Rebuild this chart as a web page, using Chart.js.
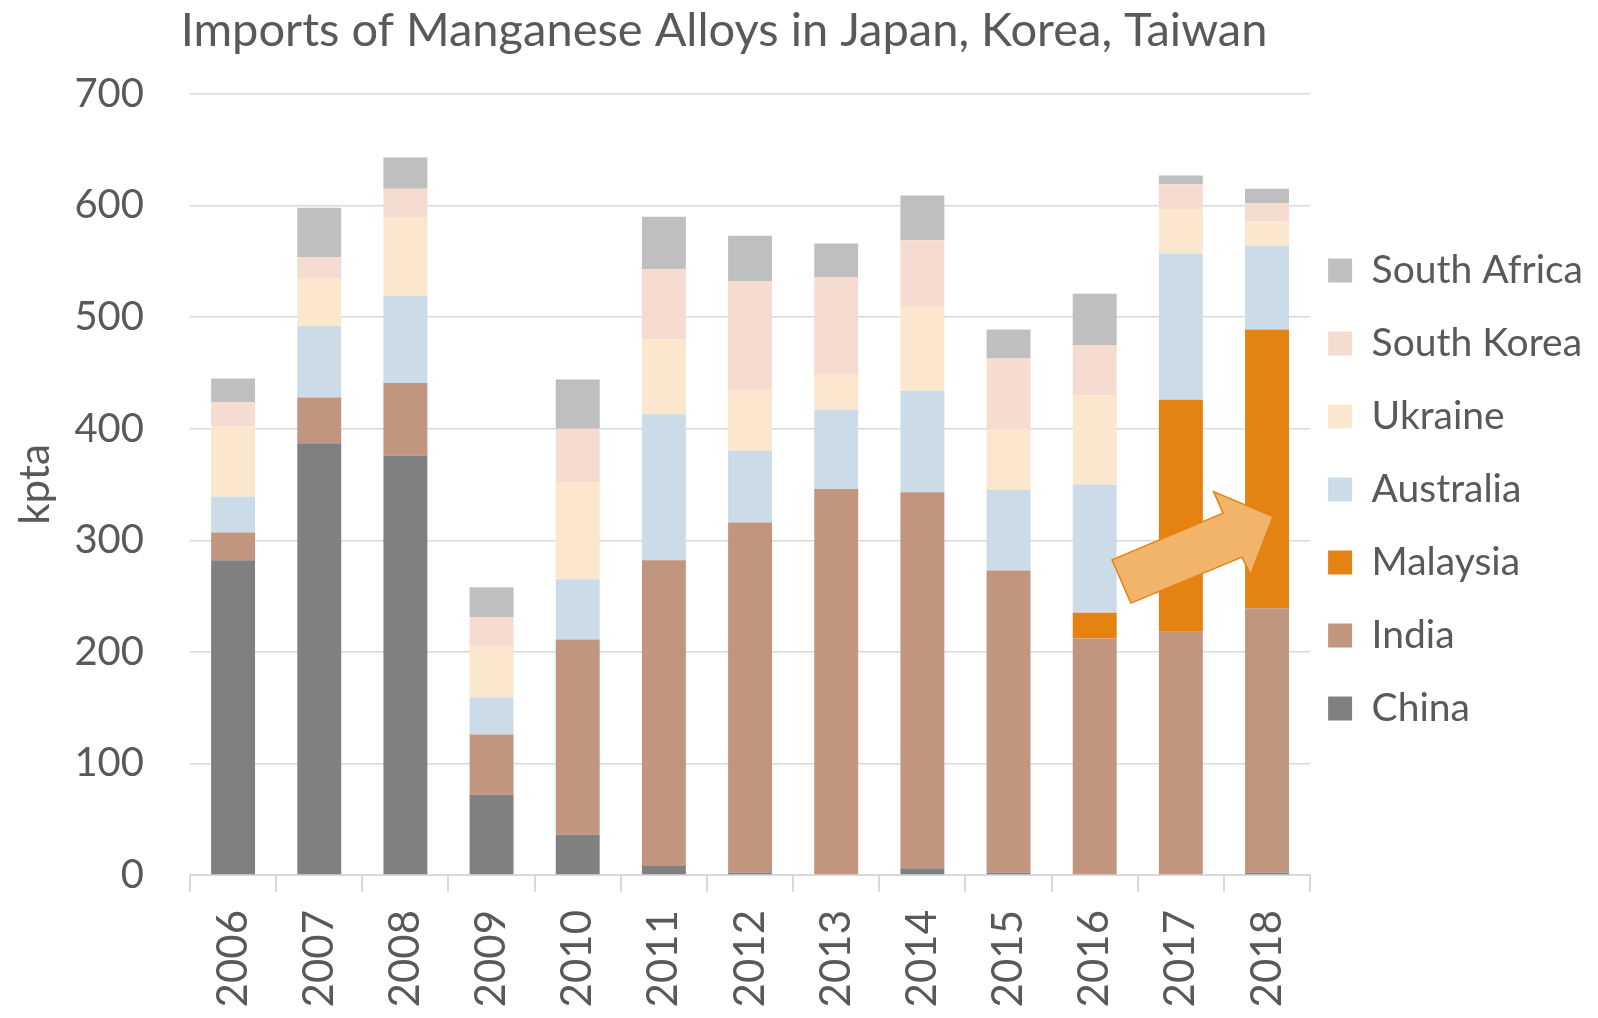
<!DOCTYPE html>
<html>
<head>
<meta charset="utf-8">
<script src="https://cdn.jsdelivr.net/npm/chart.js@4/dist/chart.umd.min.js"></script>
<style>
  html, body { margin: 0; padding: 0; background: #ffffff; }
  #wrap { width: 1598px; height: 1018px; }
</style>
</head>
<body>
<div id="wrap"><canvas id="c" width="1598" height="1018"></canvas></div>
<script>
const years = ['2006','2007','2008','2009','2010','2011','2012','2013','2014','2015','2016','2017','2018'];
const china       = [282, 387, 376, 72, 36, 8, 2, 0, 6, 2, 0, 0, 2];
const india       = [25, 41, 65, 54, 175, 274, 314, 346, 337, 271, 212, 218, 237];
const malaysia    = [0, 0, 0, 0, 0, 0, 0, 0, 0, 0, 23, 208, 250];
const australia   = [32, 64, 78, 33, 54, 131, 64, 71, 91, 72, 115, 131, 75];
const ukraine     = [63, 43, 70, 46, 87, 67, 54, 32, 76, 55, 80, 40, 22];
const southKorea  = [22, 19, 26, 26, 48, 63, 98, 87, 59, 63, 45, 22, 16];
const southAfrica = [21, 44, 28, 27, 44, 47, 41, 30, 40, 26, 46, 8, 13];
const yTicks = [0, 100, 200, 300, 400, 500, 600, 700];
const titleText = 'Imports of Manganese Alloys in Japan, Korea, Taiwan';
// arrow annotation outline in (category index, value) units
const arrowIdx = [10.20, 10.42, 11.71, 11.81, 12.07, 11.38, 11.49];
const arrowVal = [282.5, 243.7, 284.9, 269.0, 321.2, 343.6, 324.3];

const FONT = 'Lato, "Open Sans", sans-serif';
const TXT = '#595959';
const GRID = '#D9D9D9';
const LEGEND_PAD = 34;

const titlePlugin = {
  id: 'manualTitle',
  afterDraw(chart) {
    const ctx = chart.ctx;
    ctx.save();
    ctx.font = '47px ' + FONT;
    ctx.fillStyle = TXT;
    ctx.textAlign = 'center';
    ctx.textBaseline = 'alphabetic';
    ctx.fillText(titleText, 724, 46);
    ctx.restore();
  }
};

const arrowPlugin = {
  id: 'arrow',
  afterDatasetsDraw(chart) {
    const xs = chart.scales.x, ys = chart.scales.y, ctx = chart.ctx;
    ctx.save();
    ctx.beginPath();
    arrowIdx.forEach((v, i) => {
      const px = xs.getPixelForValue(v);
      const py = ys.getPixelForValue(arrowVal[i]);
      if (i === 0) ctx.moveTo(px, py); else ctx.lineTo(px, py);
    });
    ctx.closePath();
    ctx.fillStyle = '#F2B36B';
    ctx.fill();
    ctx.lineWidth = 1.5;
    ctx.strokeStyle = '#E5820F';
    ctx.stroke();
    ctx.restore();
  }
};

const legendShift = {
  id: 'legendShift',
  afterLayout(chart) {
    const lg = chart.legend;
    if (!lg) return;
    const dx = (chart.chartArea.right + 18 - LEGEND_PAD) - lg.left;
    lg.left += dx; lg.right += dx;
    lg.top += 5; lg.bottom += 5;
  }
};

const mk = (label, data, color) => ({ label, data, backgroundColor: color, borderWidth: 0 });

new Chart(document.getElementById('c'), {
  type: 'bar',
  data: {
    labels: years,
    datasets: [
      mk('China', china, '#808080'),
      mk('India', india, '#C2957F'),
      mk('Malaysia', malaysia, '#E48312'),
      mk('Australia', australia, '#CBDCE8'),
      mk('Ukraine', ukraine, '#FBE6CE'),
      mk('South Korea', southKorea, '#F6DBD1'),
      mk('South Africa', southAfrica, '#BFBFBF')
    ]
  },
  options: {
    responsive: false,
    animation: false,
    events: [],
    layout: { padding: { top: 94, right: -11, bottom: 0, left: 0 } },
    datasets: { bar: { categoryPercentage: 1.0, barPercentage: 0.51 } },
    plugins: {
      title: { display: false },
      tooltip: { enabled: false },
      legend: {
        position: 'right',
        fullSize: false,
        reverse: true,
        labels: {
          boxWidth: 24,
          boxHeight: 24,
          padding: LEGEND_PAD,
          color: TXT,
          font: { family: FONT, size: 39 }
        }
      }
    },
    scales: {
      x: {
        stacked: true,
        afterFit(s) { s.height = 143; },
        grid: { drawOnChartArea: false, drawTicks: true, tickLength: 17, color: GRID, lineWidth: 2 },
        border: { display: true, color: GRID, width: 2 },
        ticks: {
          color: TXT, font: { family: FONT, size: 42 },
          minRotation: 90, maxRotation: 90, padding: 18, autoSkip: false
        }
      },
      y: {
        stacked: true,
        min: 0, max: 700,
        afterFit(s) { s.width = 190; },
        afterBuildTicks(s) { s.ticks = yTicks.map(v => ({ value: v })); },
        grid: { drawTicks: false, color: GRID, lineWidth: 1.5 },
        border: { display: false },
        ticks: { color: TXT, font: { family: FONT, size: 40 }, padding: 46 },
        title: {
          display: true, text: 'kpta', color: TXT,
          font: { family: FONT, size: 42 },
          padding: { top: 10, bottom: 0 }
        }
      }
    }
  },
  plugins: [titlePlugin, arrowPlugin, legendShift]
});
</script>
</body>
</html>
